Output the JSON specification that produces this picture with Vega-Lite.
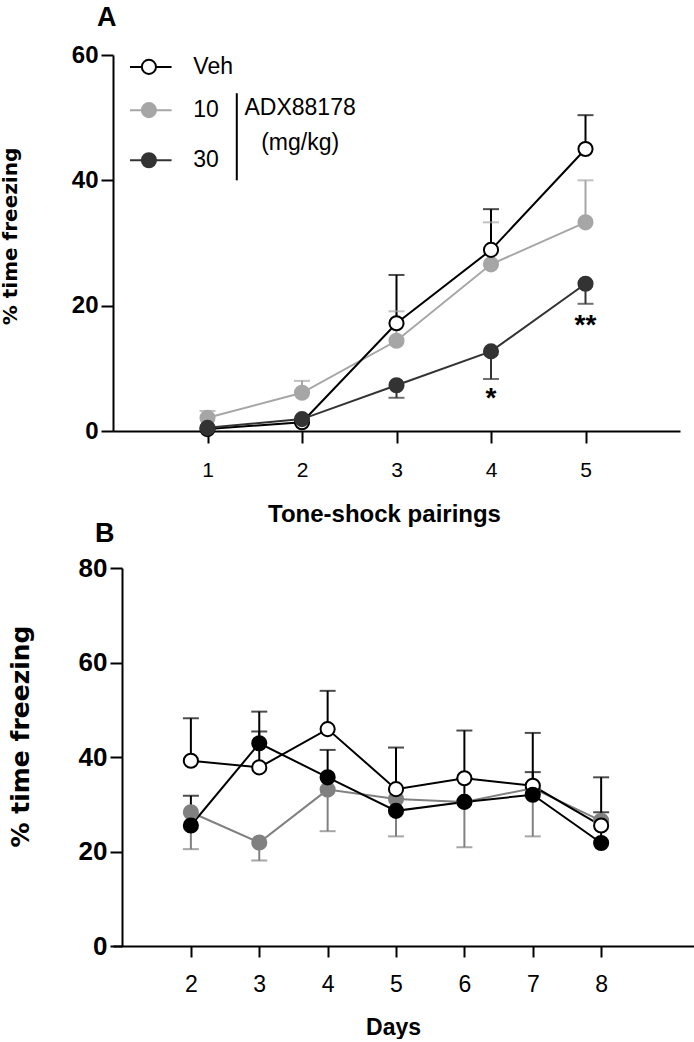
{
  "$schema": "https://vega.github.io/schema/vega-lite/v6.json",
  "background": "white",
  "padding": {"left": 0, "top": 4, "right": 0, "bottom": 0},
  "config": {
    "view": {"stroke": null},
    "font": "Liberation Sans",
    "axis": {
      "grid": false,
      "domainColor": "#000",
      "domainWidth": 2,
      "tickColor": "#000",
      "tickWidth": 2,
      "labelColor": "#000",
      "titleColor": "#000",
      "labelFont": "Liberation Sans",
      "titleFont": "Liberation Sans"
    }
  },
  "datasets": {
    "a": [
      {"x": 1, "g": "10", "mean": 2.1, "err": 3.2},
      {"x": 2, "g": "10", "mean": 6.1, "err": 8.0},
      {"x": 3, "g": "10", "mean": 14.4, "err": 19.1},
      {"x": 4, "g": "10", "mean": 26.6, "err": 33.3},
      {"x": 5, "g": "10", "mean": 33.3, "err": 40.0},
      {"x": 1, "g": "Veh", "mean": 0.3, "err": null},
      {"x": 2, "g": "Veh", "mean": 1.4, "err": null},
      {"x": 3, "g": "Veh", "mean": 17.2, "err": 24.9},
      {"x": 4, "g": "Veh", "mean": 28.9, "err": 35.4},
      {"x": 5, "g": "Veh", "mean": 45.0, "err": 50.4},
      {"x": 1, "g": "30", "mean": 0.5, "err": null},
      {"x": 2, "g": "30", "mean": 1.9, "err": null},
      {"x": 3, "g": "30", "mean": 7.3, "err": 5.3},
      {"x": 4, "g": "30", "mean": 12.7, "err": 8.3},
      {"x": 5, "g": "30", "mean": 23.5, "err": 20.3}
    ],
    "b": [
      {"x": 2, "g": "10", "mean": 28.3, "err": 20.5},
      {"x": 3, "g": "10", "mean": 21.9, "err": 18.1},
      {"x": 4, "g": "10", "mean": 33.1, "err": 24.3},
      {"x": 5, "g": "10", "mean": 31.1, "err": 23.2},
      {"x": 6, "g": "10", "mean": 30.5, "err": 20.9},
      {"x": 7, "g": "10", "mean": 33.4, "err": 23.2},
      {"x": 8, "g": "10", "mean": 26.5, "err": null},
      {"x": 2, "g": "Veh", "mean": 39.2, "err": 48.2},
      {"x": 3, "g": "Veh", "mean": 37.8, "err": 49.6},
      {"x": 4, "g": "Veh", "mean": 45.9, "err": 54.0},
      {"x": 5, "g": "Veh", "mean": 33.2, "err": 42.0},
      {"x": 6, "g": "Veh", "mean": 35.5, "err": 45.6},
      {"x": 7, "g": "Veh", "mean": 33.9, "err": 45.1},
      {"x": 8, "g": "Veh", "mean": 25.5, "err": 35.7},
      {"x": 2, "g": "30", "mean": 25.5, "err": 31.8},
      {"x": 3, "g": "30", "mean": 42.9, "err": 45.4},
      {"x": 4, "g": "30", "mean": 35.7, "err": 41.5},
      {"x": 5, "g": "30", "mean": 28.6, "err": 33.2},
      {"x": 6, "g": "30", "mean": 30.5, "err": 35.5},
      {"x": 7, "g": "30", "mean": 32.0, "err": 36.8},
      {"x": 8, "g": "30", "mean": 21.8, "err": 28.3}
    ],
    "stars": [
      {"x": 4, "y": 5.9, "label": "*"},
      {"x": 5, "y": 17.5, "label": "**"}
    ],
    "legend": [
      {"g": "Veh", "x1": 0.18, "x2": 0.62, "xm": 0.38, "xt": 0.85, "y": 58.1},
      {"g": "10", "x1": 0.18, "x2": 0.62, "xm": 0.38, "xt": 0.85, "y": 51.2},
      {"g": "30", "x1": 0.18, "x2": 0.62, "xm": 0.38, "xt": 0.85, "y": 43.2}
    ],
    "bracket": [
      {"x": 1.31, "y1": 53.9, "y2": 40.0}
    ],
    "drug": [
      {"x": 1.98, "y": 51.5, "label": "ADX88178"},
      {"x": 1.98, "y": 46.0, "label": "(mg/kg)"}
    ]
  },
  "vconcat": [
    {
      "width": 567,
      "height": 376,
      "title": {"text": "A", "anchor": "start", "frame": "group", "fontSize": 27, "fontWeight": "bold", "font": "Liberation Sans", "color": "#000", "dx": -16, "offset": 11},
      "layer": [
        {
          "data": {"name": "a"},
          "transform": [{"filter": "datum.err != null"}],
          "mark": {"type": "rule", "strokeWidth": 2},
          "encoding": {
            "x": {"field": "x", "type": "quantitative", "scale": {"domain": [0, 6], "nice": false}, "axis": {"values": [1, 2, 3, 4, 5], "format": "d", "title": "Tone-shock pairings", "tickSize": 12, "labelFontSize": 21, "labelPadding": 16, "titleFontSize": 24, "titleFontWeight": "bold", "titlePadding": 22, "titleX": 271}},
            "y": {"field": "mean", "type": "quantitative", "scale": {"domain": [0, 60], "nice": false}, "axis": {"values": [0, 20, 40, 60], "title": "% time freezing", "tickSize": 12, "labelFontSize": 24, "labelFontWeight": "bold", "labelPadding": 3, "titleFont": "DejaVu Sans", "titleFontSize": 20, "titleFontWeight": "bold", "titleX": -93, "titleY": 181}},
            "y2": {"field": "err"},
            "color": {"field": "g", "type": "nominal", "scale": {"domain": ["Veh", "10", "30"], "range": ["#000000", "#a6a6a6", "#333333"]}, "legend": null}
          }
        },
        {
          "data": {"name": "a"},
          "transform": [{"filter": "datum.err != null"}],
          "mark": {"type": "tick", "orient": "horizontal", "size": 16, "thickness": 2},
          "encoding": {
            "x": {"field": "x", "type": "quantitative"},
            "y": {"field": "err", "type": "quantitative"},
            "color": {"field": "g", "type": "nominal", "scale": {"domain": ["Veh", "10", "30"], "range": ["#000000", "#a6a6a6", "#333333"]}, "legend": null}
          }
        },
        {
          "data": {"name": "a"},
          "mark": {"type": "line", "strokeWidth": 2},
          "encoding": {
            "x": {"field": "x", "type": "quantitative"},
            "y": {"field": "mean", "type": "quantitative"},
            "color": {"field": "g", "type": "nominal", "scale": {"domain": ["Veh", "10", "30"], "range": ["#000000", "#a6a6a6", "#333333"]}, "legend": null}
          }
        },
        {
          "data": {"name": "a"},
          "mark": {"type": "point", "shape": "circle", "filled": false, "size": 200, "strokeWidth": 2, "opacity": 1},
          "encoding": {
            "x": {"field": "x", "type": "quantitative"},
            "y": {"field": "mean", "type": "quantitative"},
            "stroke": {"field": "g", "type": "nominal", "scale": {"domain": ["Veh", "10", "30"], "range": ["#000000", "#a6a6a6", "#333333"]}, "legend": null},
            "fill": {"field": "g", "type": "nominal", "scale": {"domain": ["Veh", "10", "30"], "range": ["#ffffff", "#a6a6a6", "#333333"]}, "legend": null}
          }
        },
        {
          "data": {"name": "stars"},
          "mark": {"type": "text", "fontSize": 28, "fontWeight": "bold", "font": "Liberation Sans", "color": "#000", "baseline": "middle", "dy": 5},
          "encoding": {
            "x": {"field": "x", "type": "quantitative"},
            "y": {"field": "y", "type": "quantitative"},
            "text": {"field": "label"}
          }
        },
        {
          "data": {"name": "legend"},
          "mark": {"type": "rule", "strokeWidth": 2},
          "encoding": {
            "x": {"field": "x1", "type": "quantitative"},
            "x2": {"field": "x2"},
            "y": {"field": "y", "type": "quantitative"},
            "color": {"field": "g", "type": "nominal", "scale": {"domain": ["Veh", "10", "30"], "range": ["#000000", "#a6a6a6", "#333333"]}, "legend": null}
          }
        },
        {
          "data": {"name": "legend"},
          "mark": {"type": "point", "shape": "circle", "filled": false, "size": 200, "strokeWidth": 2, "opacity": 1},
          "encoding": {
            "x": {"field": "xm", "type": "quantitative"},
            "y": {"field": "y", "type": "quantitative"},
            "stroke": {"field": "g", "type": "nominal", "scale": {"domain": ["Veh", "10", "30"], "range": ["#000000", "#a6a6a6", "#333333"]}, "legend": null},
            "fill": {"field": "g", "type": "nominal", "scale": {"domain": ["Veh", "10", "30"], "range": ["#ffffff", "#a6a6a6", "#333333"]}, "legend": null}
          }
        },
        {
          "data": {"name": "legend"},
          "mark": {"type": "text", "fontSize": 23, "font": "Liberation Sans", "color": "#000", "align": "left", "baseline": "middle"},
          "encoding": {
            "x": {"field": "xt", "type": "quantitative"},
            "y": {"field": "y", "type": "quantitative"},
            "text": {"field": "g"}
          }
        },
        {
          "data": {"name": "bracket"},
          "mark": {"type": "rule", "strokeWidth": 2, "color": "#000"},
          "encoding": {
            "x": {"field": "x", "type": "quantitative"},
            "y": {"field": "y1", "type": "quantitative"},
            "y2": {"field": "y2"}
          }
        },
        {
          "data": {"name": "drug"},
          "mark": {"type": "text", "fontSize": 23, "font": "Liberation Sans", "color": "#000", "align": "center", "baseline": "middle"},
          "encoding": {
            "x": {"field": "x", "type": "quantitative"},
            "y": {"field": "y", "type": "quantitative"},
            "text": {"field": "label"}
          }
        }
      ]
    },
    {
      "width": 581,
      "height": 378,
      "title": {"text": "B", "anchor": "start", "frame": "group", "fontSize": 27, "fontWeight": "bold", "font": "Liberation Sans", "color": "#000", "dx": -18, "offset": 7},
      "layer": [
        {
          "data": {"name": "b"},
          "transform": [{"filter": "datum.err != null"}],
          "mark": {"type": "rule", "strokeWidth": 2},
          "encoding": {
            "x": {"field": "x", "type": "quantitative", "scale": {"domain": [0.861, 9.358], "nice": false}, "axis": {"values": [2, 3, 4, 5, 6, 7, 8], "format": "d", "title": "Days", "tickSize": 11, "labelFontSize": 23, "labelPadding": 16, "titleFontSize": 23, "titleFontWeight": "bold", "titlePadding": 20, "titleX": 280}},
            "y": {"field": "mean", "type": "quantitative", "scale": {"domain": [0, 80], "nice": false}, "axis": {"values": [0, 20, 40, 60, 80], "offset": -9, "title": "% time freezing", "tickSize": 12, "labelFontSize": 26, "labelFontWeight": "bold", "labelPadding": 3, "titleFont": "DejaVu Sans", "titleFontSize": 25, "titleFontWeight": "bold", "titleX": -89, "titleY": 168}},
            "y2": {"field": "err"},
            "color": {"field": "g", "type": "nominal", "scale": {"domain": ["Veh", "10", "30"], "range": ["#000000", "#808080", "#000000"]}, "legend": null}
          }
        },
        {
          "data": {"name": "b"},
          "transform": [{"filter": "datum.err != null"}],
          "mark": {"type": "tick", "orient": "horizontal", "size": 16, "thickness": 2},
          "encoding": {
            "x": {"field": "x", "type": "quantitative"},
            "y": {"field": "err", "type": "quantitative"},
            "color": {"field": "g", "type": "nominal", "scale": {"domain": ["Veh", "10", "30"], "range": ["#000000", "#808080", "#000000"]}, "legend": null}
          }
        },
        {
          "data": {"name": "b"},
          "mark": {"type": "line", "strokeWidth": 2},
          "encoding": {
            "x": {"field": "x", "type": "quantitative"},
            "y": {"field": "mean", "type": "quantitative"},
            "color": {"field": "g", "type": "nominal", "scale": {"domain": ["Veh", "10", "30"], "range": ["#000000", "#808080", "#000000"]}, "legend": null}
          }
        },
        {
          "data": {"name": "b"},
          "mark": {"type": "point", "shape": "circle", "filled": false, "size": 200, "strokeWidth": 2, "opacity": 1},
          "encoding": {
            "x": {"field": "x", "type": "quantitative"},
            "y": {"field": "mean", "type": "quantitative"},
            "stroke": {"field": "g", "type": "nominal", "scale": {"domain": ["Veh", "10", "30"], "range": ["#000000", "#808080", "#000000"]}, "legend": null},
            "fill": {"field": "g", "type": "nominal", "scale": {"domain": ["Veh", "10", "30"], "range": ["#ffffff", "#808080", "#000000"]}, "legend": null}
          }
        }
      ]
    }
  ],
  "spacing": -6,
  "resolve": {"scale": {"color": "independent", "stroke": "independent", "fill": "independent"}}
}
